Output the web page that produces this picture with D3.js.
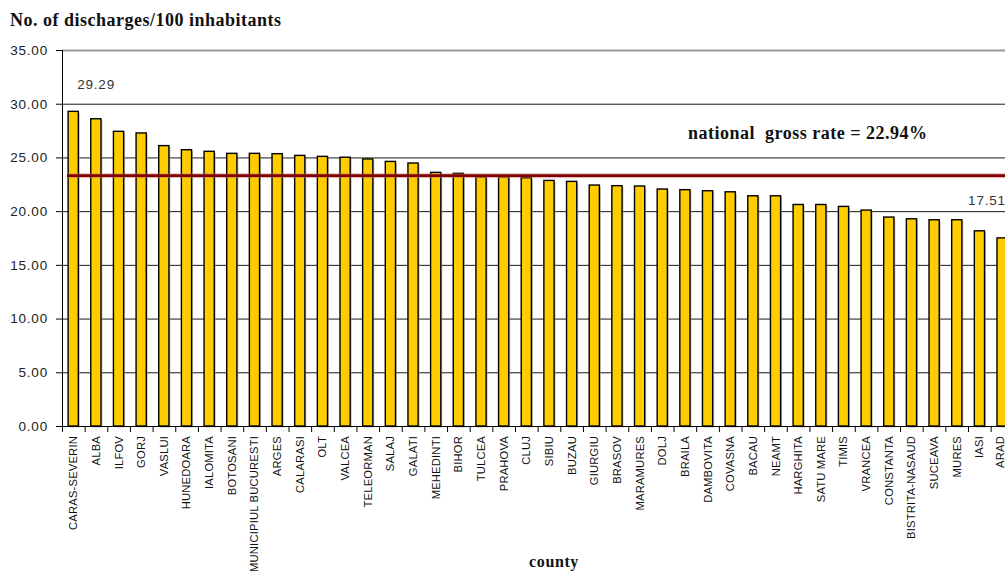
<!DOCTYPE html>
<html>
<head>
<meta charset="utf-8">
<script src="https://cdn.jsdelivr.net/npm/d3@7"></script>
<style>
  body { margin: 0; background: #fff; }
  svg { display: block; }
</style>
</head>
<body>
<svg id="chart"></svg>
<script>
// counties, sorted by rate
const counties = ['CARAS-SEVERIN', 'ALBA', 'ILFOV', 'GORJ', 'VASLUI', 'HUNEDOARA', 'IALOMITA',
    'BOTOSANI', 'MUNICIPIUL BUCURESTI', 'ARGES', 'CALARASI', 'OLT', 'VALCEA', 'TELEORMAN',
    'SALAJ', 'GALATI', 'MEHEDINTI', 'BIHOR', 'TULCEA', 'PRAHOVA', 'CLUJ', 'SIBIU', 'BUZAU',
    'GIURGIU', 'BRASOV', 'MARAMURES', 'DOLJ', 'BRAILA', 'DAMBOVITA', 'COVASNA', 'BACAU',
    'NEAMT', 'HARGHITA', 'SATU MARE', 'TIMIS', 'VRANCEA', 'CONSTANTA', 'BISTRITA-NASAUD',
    'SUCEAVA', 'MURES', 'IASI', 'ARAD'];

const rates = [29.29, 28.60, 27.43, 27.28, 26.10, 25.72, 25.57, 25.38, 25.38, 25.35, 25.19,
    25.10, 25.02, 24.86, 24.63, 24.48, 23.61, 23.52, 23.20, 23.20, 23.11, 22.86, 22.77,
    22.43, 22.37, 22.34, 22.06, 22.00, 21.90, 21.80, 21.43, 21.43, 20.62, 20.62, 20.44,
    20.10, 19.45, 19.29, 19.20, 19.20, 18.17, 17.51];

const yTicks = [0, 5, 10, 15, 20, 25, 30, 35];

// level where the national line is drawn, and its label
const nationalLevel = 23.3;
const nationalText = 'national  gross rate = 22.94%';

const width = 1005, height = 572;
const margin = {top: 50, left: 62};
const step = 22.65;
const innerW = counties.length * step;
const innerH = 376;

const sans = 'Liberation Sans, Arial, sans-serif';
const serif = 'Liberation Serif, Times New Roman, serif';

const svg = d3.select('#chart')
    .attr('width', width)
    .attr('height', height);

const chart = svg.append('g')
    .attr('transform', `translate(${margin.left}, ${margin.top})`);

const x = d3.scaleBand()
    .domain(counties)
    .range([0, innerW])
    .paddingInner(0.55)
    .paddingOuter(0.27);

const y = d3.scaleLinear()
    .domain([0, 35])
    .range([innerH, 0]);

// gridlines
chart.append('g')
    .selectAll('line')
    .data(yTicks.slice(1, -1))
    .join('line')
    .attr('x1', 0)
    .attr('x2', width)
    .attr('y1', d => y(d) + 0.5)
    .attr('y2', d => y(d) + 0.5)
    .attr('stroke', '#1a1a1a')
    .attr('stroke-width', 1);

// top border
chart.append('line')
    .attr('x1', 0).attr('x2', width)
    .attr('y1', y(35) + 0.5).attr('y2', y(35) + 0.5)
    .attr('stroke', '#999').attr('stroke-width', 2);

// y axis
const yAxis = d3.axisLeft(y)
    .tickValues(yTicks)
    .tickSize(6)
    .tickPadding(8)
    .tickFormat(d3.format('.2f'));

const yg = chart.append('g').call(yAxis);
yg.select('.domain').remove();
yg.selectAll('line').attr('stroke', '#000');
yg.selectAll('text')
    .style('font-family', sans)
    .style('font-size', '13.5px')
    .style('letter-spacing', '0.8px')
    .attr('fill', '#222');

chart.append('line')
    .attr('x1', 0.5).attr('x2', 0.5)
    .attr('y1', 0).attr('y2', innerH)
    .attr('stroke', '#000');

// bar shadows then bars
chart.append('g')
    .selectAll('rect')
    .data(rates)
    .join('rect')
    .attr('x', (d, i) => x(counties[i]) + 1.5)
    .attr('y', d => y(d) + 1.5)
    .attr('width', x.bandwidth())
    .attr('height', d => innerH - y(d))
    .attr('fill', '#9a9a9a')
    .attr('opacity', 0.6);

chart.append('g')
    .selectAll('rect')
    .data(rates)
    .join('rect')
    .attr('x', (d, i) => x(counties[i]))
    .attr('y', d => y(d))
    .attr('width', x.bandwidth())
    .attr('height', d => innerH - y(d))
    .attr('fill', '#FFCC00')
    .attr('stroke', '#000')
    .attr('stroke-width', 1.4);

// x axis
chart.append('line')
    .attr('x1', 0).attr('x2', width)
    .attr('y1', innerH + 0.5).attr('y2', innerH + 0.5)
    .attr('stroke', '#000');

chart.append('g')
    .selectAll('line')
    .data(d3.range(counties.length + 1))
    .join('line')
    .attr('x1', i => i * step + 0.5)
    .attr('x2', i => i * step + 0.5)
    .attr('y1', innerH)
    .attr('y2', innerH + 6)
    .attr('stroke', '#000');

chart.append('g')
    .selectAll('text')
    .data(counties)
    .join('text')
    .attr('transform', d => {
        const cx = Math.min(x(d) + x.bandwidth() / 2 + 4, width - margin.left - 1);
        return `translate(${cx}, ${innerH + 10}) rotate(-90)`;
    })
    .attr('text-anchor', 'end')
    .style('font-family', sans)
    .style('font-size', '11.2px')
    .style('letter-spacing', '0.2px')
    .attr('fill', '#111')
    .text(d => d);

// national rate line
chart.append('line')
    .attr('x1', 5).attr('x2', width)
    .attr('y1', y(nationalLevel)).attr('y2', y(nationalLevel))
    .attr('stroke', '#c07070').attr('stroke-width', 5).attr('opacity', 0.45);
chart.append('line')
    .attr('x1', 5).attr('x2', width)
    .attr('y1', y(nationalLevel)).attr('y2', y(nationalLevel))
    .attr('stroke', '#800000').attr('stroke-width', 2.8);

chart.append('text')
    .attr('x', 626)
    .attr('y', 89)
    .attr('xml:space', 'preserve')
    .style('white-space', 'pre')
    .style('font-family', serif)
    .style('font-weight', 'bold')
    .style('font-size', '18px')
    .style('letter-spacing', '0.5px')
    .attr('fill', '#111')
    .text(nationalText);

// value labels for first and last bar
const first = 0, last = rates.length - 1;
chart.append('text')
    .attr('x', x(counties[first]) + x.bandwidth() / 2 + 4)
    .attr('y', y(rates[first]) - 22)
    .style('font-family', sans)
    .style('font-size', '13.5px')
    .style('letter-spacing', '0.8px')
    .attr('fill', '#333')
    .text(d3.format('.2f')(rates[first]));

chart.append('text')
    .attr('x', x(counties[last]) + x.bandwidth() / 2 - 34)
    .attr('y', y(rates[last]) - 33)
    .style('font-family', sans)
    .style('font-size', '13.5px')
    .style('letter-spacing', '0.8px')
    .attr('fill', '#333')
    .text(d3.format('.2f')(rates[last]));

// titles
svg.append('text')
    .attr('x', 10)
    .attr('y', 26)
    .style('font-family', serif)
    .style('font-weight', 'bold')
    .style('font-size', '18px')
    .style('letter-spacing', '0.5px')
    .attr('fill', '#111')
    .text('No. of discharges/100 inhabitants');

svg.append('text')
    .attr('x', 554)
    .attr('y', 567)
    .attr('text-anchor', 'middle')
    .style('font-family', serif)
    .style('font-weight', 'bold')
    .style('font-size', '16px')
    .style('letter-spacing', '0.6px')
    .attr('fill', '#111')
    .text('county');
</script>
</body>
</html>
